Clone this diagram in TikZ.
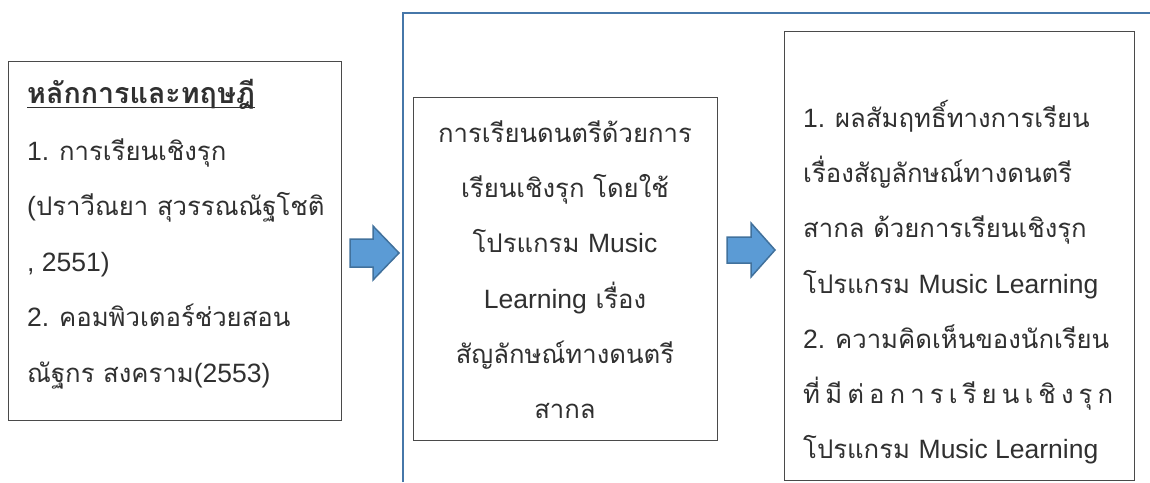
\documentclass[tikz,border=0pt]{standalone}
\usepackage{fontspec}
\setmainfont[Script=Thai,Scale=0.97]{Loma}
\newfontfamily\latn{Liberation Sans}
\newcommand\La[1]{{\latn #1}}
\definecolor{boxline}{HTML}{4A4A4A}
\definecolor{blueline}{HTML}{4677A9}
\definecolor{arrowfill}{HTML}{5B9BD5}
\definecolor{arrowline}{HTML}{41719C}
\definecolor{txt}{HTML}{303030}
\begin{document}
\begin{tikzpicture}[x=1pt,y=-1pt,
  boxst/.style={draw=boxline,line width=1pt,inner sep=0pt,fill=white},
  ln/.style={inner sep=0pt,anchor=base west,text=txt,font=\fontsize{26.5}{30}\selectfont},
  cln/.style={inner sep=0pt,anchor=base,text=txt,font=\fontsize{26.5}{30}\selectfont},
  blockarrow/.style={fill=arrowfill,draw=arrowline,line width=1.5pt,line join=miter}]
\useasboundingbox (0,0) rectangle (1150,482);
% blue frame line
\coordinate (fb) at (403,482);
\coordinate (fc) at (403,13);
\coordinate (fr) at (1150,13);
\draw[blueline,line width=2.5pt] (fb) -- (fc) -- (fr);
% boxes
\node[boxst,minimum width=333pt,minimum height=359pt] (b1) at (174.5,240.5) {};
\node[boxst,minimum width=304pt,minimum height=343pt] (b2) at (565,268.5) {};
\node[boxst,minimum width=350pt,minimum height=449pt] (b3) at (959,255.5) {};
% arrows
\draw[blockarrow] (350,239) -- (373,239) -- (373,226) -- (399,253) -- (373,280) -- (373,267) -- (350,267) -- cycle;
\draw[blockarrow] (727,237) -- (751,237) -- (751,223) -- (775,250) -- (751,277) -- (751,263) -- (727,263) -- cycle;
% box 1 text
\node[ln,font=\fontsize{29.5}{32}\selectfont\bfseries] (t1) at (27,103) {หลักการและทฤษฎี};
\draw[txt,line width=1.5pt] ([yshift=-4.5pt]t1.base west) -- ([yshift=-4.5pt]t1.base east);
\node[ln] (t2) at (27,160) {\La{1. }การเรียนเชิงรุก};
\node[ln] (t3) at (27,215) {\La{(}ปราวีณยา สุวรรณณัฐโชติ};
\node[ln] (t4) at (27,271) {\La{, 2551)}};
\node[ln] (t5) at (27,326) {\La{2. }คอมพิวเตอร์ช่วยสอน};
\node[ln] (t6) at (27,382) {ณัฐกร สงคราม\La{(2553)}};
% box 2 text
\node[cln] (m1) at (565,142) {การเรียนดนตรีด้วยการ};
\node[cln] (m2) at (565,197) {เรียนเชิงรุก โดยใช้};
\node[cln] (m3) at (565,252) {โปรแกรม \La{Music}};
\node[cln] (m4) at (565,308) {\La{Learning} เรื่อง};
\node[cln] (m5) at (565,363) {สัญลักษณ์ทางดนตรี};
\node[cln] (m6) at (565,418) {สากล};
% box 3 text
\node[ln] (r1) at (803,127) {\La{1. }ผลสัมฤทธิ์ทางการเรียน};
\node[ln] (r2) at (803,182) {เรื่องสัญลักษณ์ทางดนตรี};
\node[ln] (r3) at (803,237) {สากล ด้วยการเรียนเชิงรุก};
\node[ln] (r4) at (803,293) {โปรแกรม \La{Music Learning}};
\node[ln] (r5) at (803,348) {\La{2. }ความคิดเห็นของนักเรียน};
\node[ln] (r6) at (803,403) {\makebox[310pt][s]{ที่\hfil มี\hfil ต่\hfil อ\hfil ก\hfil า\hfil ร\hfil เ\hfil รี\hfil ย\hfil น\hfil เ\hfil ชิ\hfil ง\hfil รุ\hfil ก}};
\node[ln] (r7) at (803,458) {โปรแกรม \La{Music Learning}};
\end{tikzpicture}
\end{document}
